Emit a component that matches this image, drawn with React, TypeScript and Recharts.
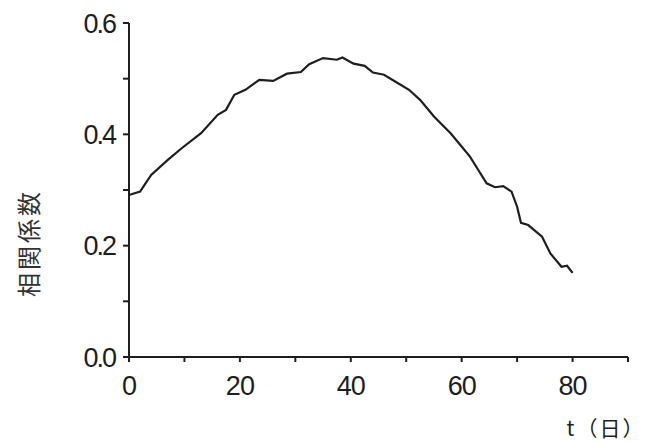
import React from "react";
import { LineChart, Line, XAxis, YAxis, Label } from "recharts";

// correlation coefficient vs. lag in days
const days = [
  0, 2, 4, 7, 9.5, 13, 16, 17.5, 19, 21, 23.5, 26, 28.5, 31, 32.5, 35, 37.5, 38.5,
  40.5, 42.5, 44, 46, 48, 50.5, 52.5, 55, 58, 59.5, 61.5, 63, 64.5, 66, 67.5, 69,
  70, 70.7, 72, 74.5, 76, 78, 79, 80,
];
const corr = [
  0.291, 0.297, 0.327, 0.354, 0.375, 0.402, 0.435, 0.444, 0.471, 0.48, 0.498, 0.496,
  0.509, 0.512, 0.526, 0.537, 0.534, 0.538, 0.527, 0.523, 0.511, 0.507, 0.495, 0.48,
  0.462, 0.432, 0.402, 0.384, 0.36, 0.336, 0.312, 0.305, 0.307, 0.297, 0.27, 0.241,
  0.237, 0.216, 0.186, 0.162, 0.164, 0.151,
];

const xTicks = [0, 10, 20, 30, 40, 50, 60, 70, 80, 90];
const xLabels = [0, 20, 40, 60, 80];
const yTicks = [0, 0.1, 0.2, 0.3, 0.4, 0.5, 0.6];
const yLabels = ["0.0", "0.2", "0.4", "0.6"];

const data = days.map((d, i) => ({ t: d, r: corr[i] }));

const ink = "#1e1e1e";
const numFont = "'Liberation Sans', Arial, sans-serif";
const cjkFont = "'Noto Sans CJK JP', 'Noto Sans CJK SC', sans-serif";

export default function App() {
  return (
    <div style={{ position: "absolute", left: 0, top: 0, background: "#fff" }}>
      <LineChart
        width={655}
        height={443}
        data={data}
        margin={{ top: 23, right: 27, bottom: 56, left: 69 }}
      >
        <XAxis
          dataKey="t"
          type="number"
          domain={[0, 90]}
          ticks={xTicks}
          interval={0}
          height={30}
          stroke={ink}
          strokeWidth={2}
          tickSize={5}
          tickMargin={14}
          tick={{ fill: ink, fontSize: 27, fontFamily: numFont, letterSpacing: -1 }}
          tickFormatter={(v: number) => (xLabels.includes(v) ? String(v) : "")}
        >
          <Label
            content={() => (
              <text
                x={606}
                y={436}
                textAnchor="middle"
                fill={ink}
                fontSize={21}
                letterSpacing={2}
                fontFamily={cjkFont}
              >
                t（日）
              </text>
            )}
          />
        </XAxis>
        <YAxis
          type="number"
          domain={[0, 0.6]}
          ticks={yTicks}
          interval={0}
          width={60}
          stroke={ink}
          strokeWidth={2}
          tickSize={6}
          tickMargin={8}
          tick={{ fill: ink, fontSize: 27, fontFamily: numFont, letterSpacing: -2 }}
          tickFormatter={(v: number) => {
            const s = v.toFixed(1);
            return yLabels.includes(s) ? s : "";
          }}
        >
          <Label
            content={() => (
              <text
                x={27}
                y={243}
                transform="rotate(-90 27 243)"
                textAnchor="middle"
                dominantBaseline="central"
                fill="#333"
                fontSize={24}
                letterSpacing={3}
                fontFamily={cjkFont}
              >
                相関係数
              </text>
            )}
          />
        </YAxis>
        <Line
          type="linear"
          dataKey="r"
          stroke={ink}
          strokeWidth={2.2}
          dot={false}
          isAnimationActive={false}
        />
      </LineChart>
    </div>
  );
}
